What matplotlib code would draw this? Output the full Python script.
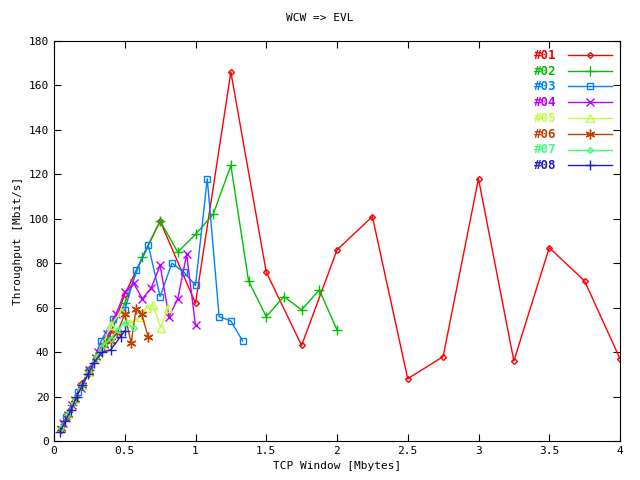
import matplotlib
matplotlib.use('Agg')
import matplotlib.pyplot as plt

plt.rcParams['font.family'] = 'DejaVu Sans Mono'
plt.rcParams['font.size'] = 8

x01 = [0.05, 0.1, 0.15, 0.2, 0.25, 0.3, 0.4, 0.5, 0.75, 1.0, 1.25, 1.5, 1.75, 2.0, 2.25, 2.5, 2.75, 3.0, 3.25, 3.5, 3.75, 4.0]
y01 = [5, 11, 19, 26, 32, 38, 48, 66, 99, 62, 166, 76, 43, 86, 101, 28, 38, 118, 36, 87, 72, 37]
x02 = [0.125, 0.25, 0.375, 0.5, 0.625, 0.75, 0.875, 1.0, 1.125, 1.25, 1.375, 1.5, 1.625, 1.75, 1.875, 2.0]
y02 = [16, 32, 46, 62, 83, 99, 85, 93, 102, 124, 72, 56, 65, 59, 68, 50]
x03 = [0.083, 0.167, 0.25, 0.333, 0.417, 0.5, 0.583, 0.667, 0.75, 0.833, 0.917, 1.0, 1.083, 1.167, 1.25, 1.333]
y03 = [11, 22, 32, 45, 55, 59, 77, 88, 65, 80, 76, 70, 118, 56, 54, 45]
x04 = [0.0625, 0.125, 0.1875, 0.25, 0.3125, 0.375, 0.4375, 0.5, 0.5625, 0.625, 0.6875, 0.75, 0.8125, 0.875, 0.9375, 1.0]
y04 = [8, 16, 24, 32, 40, 48, 57, 67, 71, 64, 69, 79, 56, 64, 84, 52]
x05 = [0.05, 0.1, 0.15, 0.2, 0.25, 0.3, 0.35, 0.4, 0.47, 0.54, 0.61, 0.655, 0.7, 0.755, 0.805]
y05 = [6, 12, 19, 25, 31, 38, 44, 52, 58, 53, 56, 60, 61, 51, 60]
x06 = [0.05, 0.1, 0.15, 0.2, 0.25, 0.3, 0.35, 0.4, 0.445, 0.5, 0.545, 0.58, 0.62, 0.665]
y06 = [6, 12, 19, 25, 31, 38, 43, 45, 48.5, 57, 44, 59.5, 57, 47]
x07 = [0.05, 0.1, 0.15, 0.2, 0.25, 0.3, 0.35, 0.4, 0.45, 0.5, 0.565]
y07 = [6, 12, 19, 25, 31, 38, 43, 46, 50, 53, 51]
x08 = [0.04, 0.08, 0.12, 0.16, 0.2, 0.24, 0.28, 0.34, 0.4, 0.47, 0.5]
y08 = [4, 9, 14, 20, 25, 30, 35, 40, 41, 47, 49.5]

series = [
    ('#01', x01, y01, '#ff0000', 'D', 3),
    ('#02', x02, y02, '#00c000', '+', 7),
    ('#03', x03, y03, '#0080ff', 's', 5),
    ('#04', x04, y04, '#c000ff', 'x', 6),
    ('#05', x05, y05, '#c0ff40', '^', 6),
    ('#06', x06, y06, '#c04000', (6, 2, 0), 7),
    ('#07', x07, y07, '#40ff80', 'D', 3),
    ('#08', x08, y08, '#2020c0', '+', 7),
]

fig = plt.figure(figsize=(6.4, 4.8), dpi=100)
ax = fig.add_axes([54/640, 1-441/480, 566/640, 400/480])
for name, xs, ys, c, m, ms in series:
    ax.plot(xs, ys, color=c, lw=1, marker=m, ms=ms, mfc='none', mec=c, mew=1, label=name)

ax.set_xlim(0, 4)
ax.set_ylim(0, 180)
ax.set_xticks([0, 0.5, 1, 1.5, 2, 2.5, 3, 3.5, 4])
ax.set_xticklabels(['0', '0.5', '1', '1.5', '2', '2.5', '3', '3.5', '4'])
ax.set_yticks(range(0, 181, 20))
ax.tick_params(direction='in', top=True, right=True, length=5)
ax.set_xlabel('TCP Window [Mbytes]')
ax.set_ylabel('Throughput [Mbit/s]')
fig.text(0.5, 1-18/480, 'WCW => EVL', ha='center', va='center')

leg = ax.legend(loc='upper right', frameon=False, markerfirst=False, handlelength=4,
                labelspacing=0.25, borderaxespad=0.3, handletextpad=1.0)
for t, s in zip(leg.get_texts(), series):
    t.set_color(s[3])
    t.set_fontweight('bold')
    t.set_fontsize(9)

fig.savefig('out.png', dpi=100)
